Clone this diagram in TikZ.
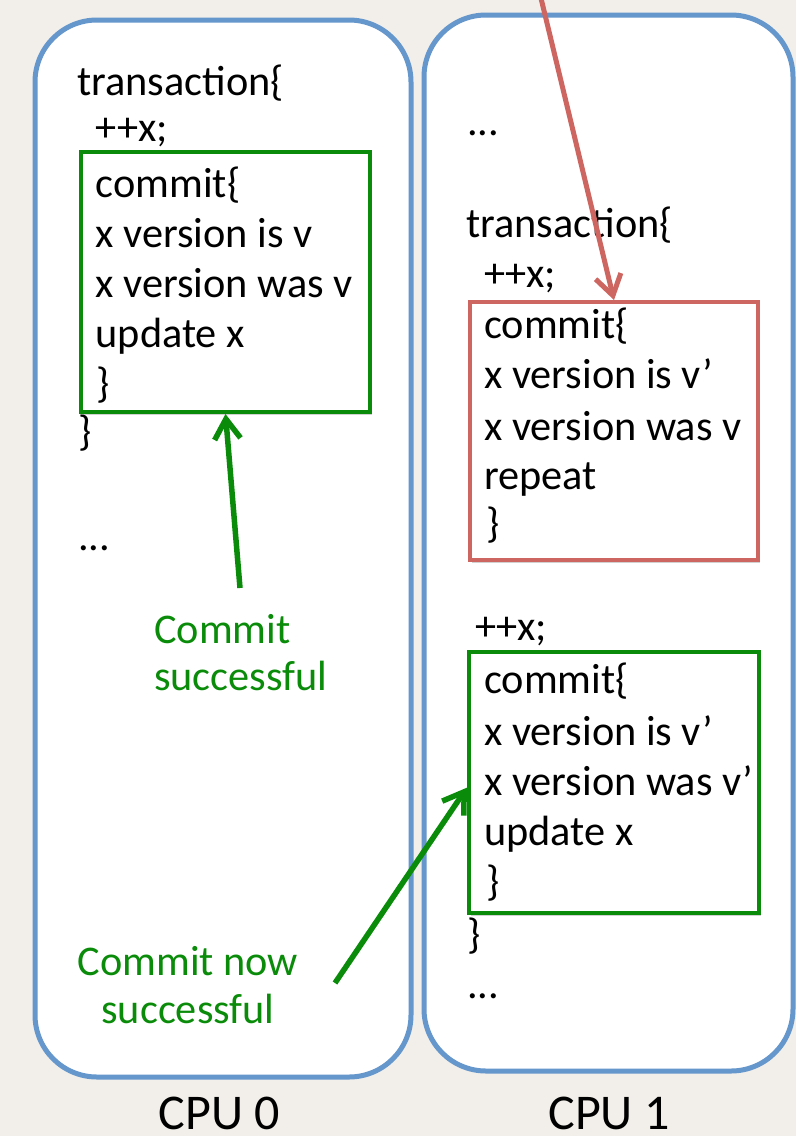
\documentclass[tikz,border=0pt]{standalone}
\usepackage{fontspec}
\setmainfont{Carlito}
\usetikzlibrary{arrows.meta,shadows}
\definecolor{bg}{RGB}{242,239,234}
\definecolor{cpublue}{RGB}{101,150,204}
\definecolor{okgreen}{RGB}{10,140,10}
\definecolor{badred}{RGB}{205,102,96}
\newcommand\codefont{\fontsize{42.3}{50}\selectfont}
\newcommand\cpufont{\fontsize{50}{60}\selectfont}
\begin{document}
\begin{tikzpicture}[x=1pt,y=-1pt,
  cpubox/.style={draw=cpublue, line width=5pt, fill=white, rounded corners=62pt, inner sep=0pt},
  shbox/.style={line width=4pt, fill=white, inner sep=0pt,
    drop shadow={shadow xshift=2pt, shadow yshift=-3pt, opacity=0.18, fill=black}},
  okbox/.style={shbox, draw=okgreen},
  badbox/.style={shbox, draw=badred},
  code/.style={anchor=base west, inner sep=0pt, font=\codefont},
  glabel/.style={inner sep=0pt, font=\codefont, text=okgreen},
  cpulabel/.style={anchor=base, inner sep=0pt, font=\cpufont},
  okarrow/.style={draw=okgreen, line width=5.5pt, -{Straight Barb[length=20pt,width=26pt]}},
  badarrow/.style={draw=badred, line width=5pt, -{Straight Barb[length=20pt,width=26pt]}}
]
\useasboundingbox (0,0) rectangle (796,1136);
\fill[bg] (0,0) rectangle (796,1136);

% CPU boxes
\node[cpubox, minimum width=376pt, minimum height=1057pt] (cpu0) at (223,548.5) {};
\node[cpubox, minimum width=369pt, minimum height=1056pt] (cpu1) at (608.5,543) {};

% inner boxes
\node[okbox, minimum width=289pt, minimum height=260pt] (box1) at (225.5,282) {};
\node[badbox, minimum width=288pt, minimum height=258pt] (redbox) at (614,431) {};
\node[okbox, minimum width=290pt, minimum height=261pt] (box2) at (614,782.5) {};

% CPU 0 text
\node[code] (a1) at (77,95) {transaction\{};
\node[code] (a2) at (95.5,141) {++x;};
\node[code] (a3) at (95.5,197) {commit\{};
\node[code] (a4) at (95.5,247) {x version is v};
\node[code] (a5) at (95.5,297) {x version was v};
\node[code] (a6) at (95.5,347) {update x};
\node[code] (a7) at (96,397) {\}};
\node[code] (a8) at (78,445) {\}};
\node[code] (a9) at (78,550) {...};

% CPU 1 text
\node[code] (b1) at (467,135) {...};
\node[code] (b2) at (466,237) {transaction\{};
\node[code] (b3) at (484,287) {++x;};
\node[code] (b4) at (484,338) {commit\{};
\node[code] (b5) at (484,388) {x version is v’};
\node[code] (b6) at (484,440) {x version was v};
\node[code] (b7) at (484,489) {repeat};
\node[code] (b8) at (486,537) {\}};
\node[code] (b9) at (475,640) {++x;};
\node[code] (b10) at (484,693) {commit\{};
\node[code] (b11) at (484,745) {x version is v’};
\node[code] (b12) at (484,795) {x version was v’};
\node[code] (b13) at (484,845) {update x};
\node[code] (b14) at (486,895) {\}};
\node[code] (b15) at (467,948) {\}};
\node[code] (b16) at (467,998) {...};

% green labels
\node[glabel, anchor=base west] (g1a) at (154,643) {Commit};
\node[glabel, anchor=base west] (g1b) at (154,690) {successful};
\node[glabel, anchor=base] (g2a) at (188,975) {Commit now};
\node[glabel, anchor=base] (g2b) at (188,1023) {successful};

% CPU labels
\node[cpulabel] (c0) at (219.5,1129) {CPU 0};
\node[cpulabel] (c1) at (609,1129) {CPU 1};

% arrows
\coordinate (rtail) at (539,-10);
\coordinate (g1tail) at (240,588);
\coordinate (g2tail) at (335,983);
\draw[badarrow] (rtail) -- (redbox.north);
\draw[okarrow] (g1tail) -- (box1.south);
\draw[okarrow] (g2tail) -- (box2.182);
\end{tikzpicture}
\end{document}
